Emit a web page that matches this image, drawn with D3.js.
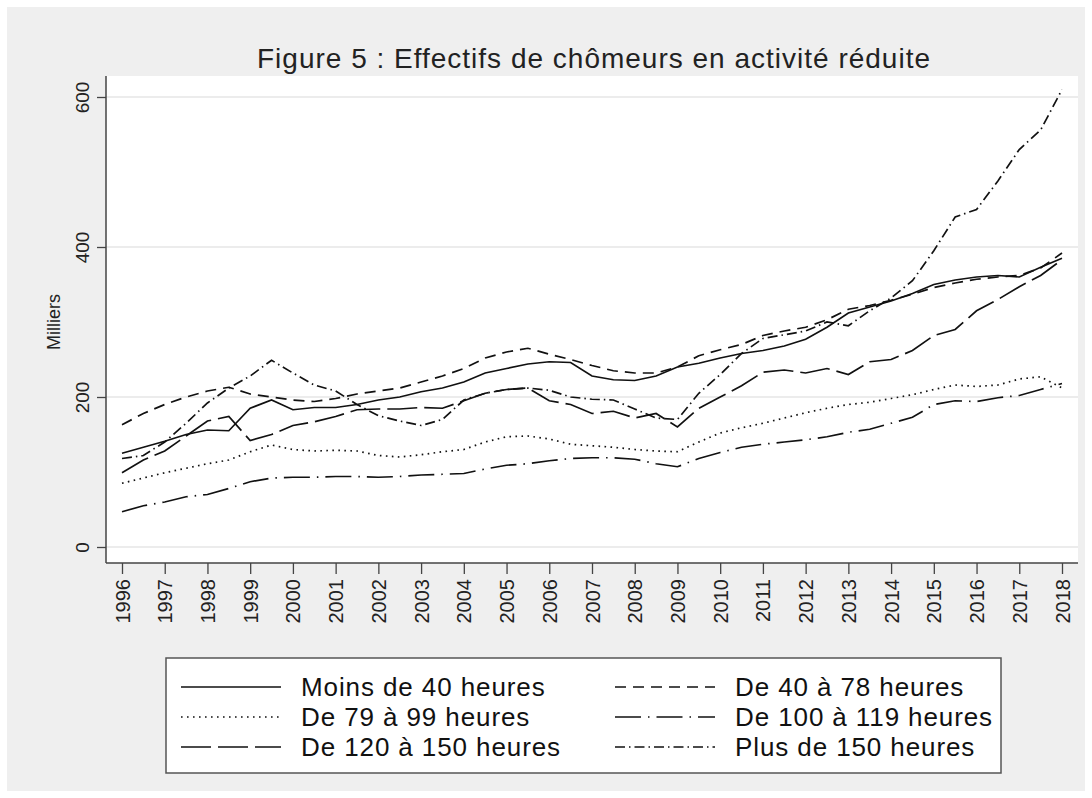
<!DOCTYPE html>
<html>
<head>
<meta charset="utf-8">
<script src="https://cdn.jsdelivr.net/npm/d3@7"></script>
<style>
  body { margin: 0; background: #fff; }
  svg { display: block; font-family: "Liberation Sans", Arial, Helvetica, sans-serif; }
</style>
</head>
<body>
<script>
// chart size
var w = 1092;
var h = 798;

// half-yearly points, 1996 to 2018 (milliers)
var years = d3.range(1996, 2018.01, 0.5);

var moins40 = [125,133,141,150,156,155,185,196,183,186,186,190,196,200,207,212,220,232,238,244,247,246,228,223,222,228,240,245,252,258,262,268,277,293,312,320,328,338,350,356,360,362,360,373,385];
var de40a78 = [163,178,190,200,208,213,204,200,196,194,198,204,208,212,220,228,238,252,260,265,257,250,242,235,232,232,240,255,263,270,282,288,293,303,317,322,329,337,346,352,357,360,362,372,392];
var de79a99 = [85,92,99,105,111,116,127,136,130,128,129,128,122,120,123,127,130,140,147,148,144,137,135,133,130,128,127,140,152,159,165,172,179,185,190,193,198,203,210,216,214,216,224,227,212];
var de100a119 = [47,55,60,67,70,78,87,92,93,93,94,94,93,94,96,97,98,104,109,111,115,118,119,119,117,111,107,118,126,133,137,140,143,147,153,157,165,173,190,195,194,199,202,210,218];
var de120a150 = [99,116,128,148,168,174,142,150,162,167,174,183,184,184,186,185,195,205,210,212,195,190,178,181,172,178,160,185,200,215,233,236,232,238,230,247,250,262,282,290,315,330,347,362,383];
var plus150 = [118,122,140,165,192,212,228,249,232,216,208,190,175,168,162,170,196,205,210,212,209,200,197,196,184,172,170,205,230,258,278,283,288,300,295,315,332,355,395,440,450,488,530,556,610];

var seriesNames = ["Moins de 40 heures", "De 40 à 78 heures", "De 79 à 99 heures",
  "De 100 à 119 heures", "De 120 à 150 heures", "Plus de 150 heures"];
var seriesValues = [moins40, de40a78, de79a99, de100a119, de120a150, plus150];
var dashes = ["none", "11,7", "1.6,4.4", "26,7,1.5,7", "30,7", "10,4,1.5,4"];

var yTicks = [0, 200, 400, 600];
var xTicks = d3.range(1996, 2019);

var svg = d3.select("body")
  .append("svg")
  .attr("width", w)
  .attr("height", h);

// grey background
svg.append("rect")
  .attr("x", 7).attr("y", 7)
  .attr("width", w - 14).attr("height", h - 14)
  .attr("fill", "#efefef");

// plot region
var pLeft = 106, pRight = 1078, pTop = 76, pBottom = 563;
svg.append("rect")
  .attr("x", pLeft).attr("y", pTop)
  .attr("width", pRight - pLeft).attr("height", pBottom - pTop)
  .attr("fill", "#fff");

var x = d3.scaleLinear().domain([1996, 2018]).range([122, 1062]);
var y = d3.scaleLinear().domain([0, 600]).range([547, 97]);

// grid
svg.selectAll(".grid")
  .data(yTicks)
  .enter()
  .append("line")
  .attr("x1", pLeft).attr("x2", pRight)
  .attr("y1", function(d) { return y(d); })
  .attr("y2", function(d) { return y(d); })
  .attr("stroke", "#e6e6e6")
  .attr("stroke-width", 1.5);

// y axis
var yAxis = svg.append("g")
  .attr("transform", "translate(" + pLeft + ",0)")
  .call(d3.axisLeft(y).tickValues(yTicks).tickSize(9));
yAxis.select(".domain").attr("d", "M0," + pTop + "V" + pBottom);
yAxis.selectAll("text")
  .attr("font-size", 19)
  .attr("fill", "#222")
  .attr("x", 0)
  .attr("y", 0)
  .attr("dy", 0)
  .attr("transform", "translate(-17,0) rotate(-90)")
  .attr("text-anchor", "middle");

// x axis
var xAxis = svg.append("g")
  .attr("transform", "translate(0," + pBottom + ")")
  .call(d3.axisBottom(x).tickValues(xTicks).tickFormat(d3.format("d")).tickSize(11));
xAxis.select(".domain").attr("d", "M" + pLeft + ",0H" + pRight);
xAxis.selectAll("text")
  .attr("font-size", 20)
  .attr("fill", "#222")
  .attr("transform", "rotate(-90)")
  .attr("x", -16)
  .attr("y", 0)
  .attr("dy", "0.35em")
  .attr("text-anchor", "end");

svg.selectAll(".domain").attr("stroke", "#444").attr("stroke-width", 1.5);
svg.selectAll(".tick line").attr("stroke", "#444").attr("stroke-width", 1.3);

// y label
svg.append("text")
  .attr("transform", "translate(60,322) rotate(-90)")
  .attr("text-anchor", "middle")
  .attr("font-size", 18)
  .attr("fill", "#222")
  .text("Milliers");

// title
svg.append("text")
  .attr("x", 594).attr("y", 68)
  .attr("text-anchor", "middle")
  .attr("font-size", 28)
  .attr("letter-spacing", 1)
  .attr("fill", "#222")
  .text("Figure 5 : Effectifs de chômeurs en activité réduite");

// lines
var line = d3.line()
  .x(function(d, i) { return x(years[i]); })
  .y(function(d) { return y(d); });

svg.selectAll(".serie")
  .data(seriesValues)
  .enter()
  .append("path")
  .attr("d", line)
  .attr("fill", "none")
  .attr("stroke", "#111")
  .attr("stroke-width", 1.7)
  .attr("stroke-dasharray", function(d, i) { return dashes[i]; });

// legend
var lg = svg.append("g");
lg.append("rect")
  .attr("x", 166).attr("y", 658)
  .attr("width", 835).attr("height", 115)
  .attr("fill", "#fff")
  .attr("stroke", "#555")
  .attr("stroke-width", 1.5);

var items = lg.selectAll(".item")
  .data(seriesNames)
  .enter()
  .append("g")
  .attr("transform", function(d, i) {
    return "translate(" + (i % 2 === 0 ? 181 : 615) + "," + (687 + Math.floor(i / 2) * 30) + ")";
  });
items.append("line")
  .attr("x1", 0).attr("x2", 100)
  .attr("stroke", "#111")
  .attr("stroke-width", 1.7)
  .attr("stroke-dasharray", function(d, i) { return dashes[i]; });
items.append("text")
  .attr("x", 120)
  .attr("dy", "0.35em")
  .attr("font-size", 26)
  .attr("letter-spacing", 0.9)
  .attr("fill", "#111")
  .text(function(d) { return d; });
</script>
</body>
</html>
